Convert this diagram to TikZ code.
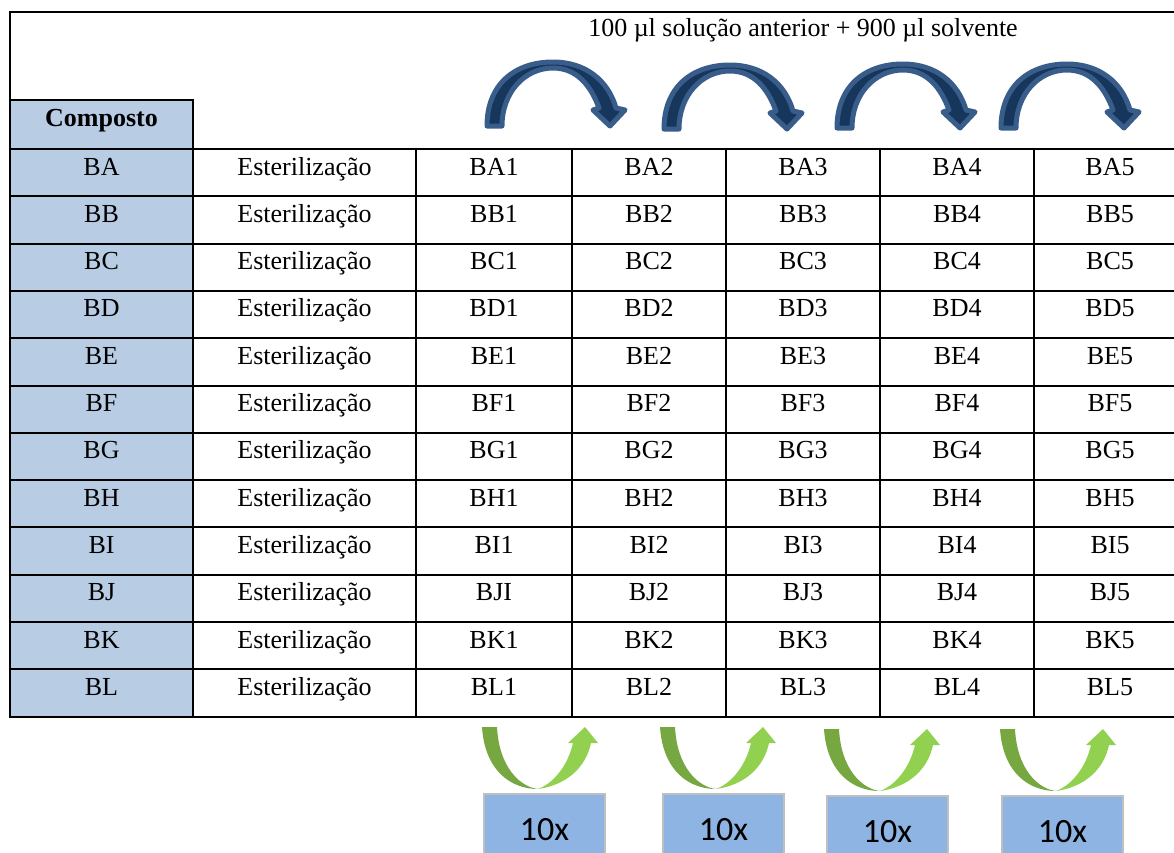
\documentclass[tikz,border=0pt]{standalone}
\usepackage{fontspec}
\setmainfont{Liberation Serif}
\newfontfamily\calib{Carlito}
\definecolor{colblue}{RGB}{184,204,228}
\definecolor{navyfill}{RGB}{22,54,92}
\definecolor{navyedge}{RGB}{56,93,138}
\definecolor{gdark}{RGB}{119,167,64}
\definecolor{glight}{RGB}{146,208,80}
\definecolor{boxfill}{RGB}{142,180,227}
\definecolor{boxedge}{RGB}{191,191,191}
\begin{document}
\begin{tikzpicture}[x=1pt,y=-1pt,
  grid/.style={line width=2pt, line cap=rect},
  celltext/.style={anchor=base, inner sep=0pt, font=\fontsize{26}{30}\selectfont},
  boldtext/.style={celltext, font=\fontsize{26}{30}\selectfont\bfseries},
  tenbox/.style={rectangle, anchor=north west, fill=boxfill, draw=boxedge, line width=2pt,
    minimum width=121pt, minimum height=72pt, inner sep=0pt, font=\calib\fontsize{34}{38}\selectfont},
  bluearrow/.pic={
    \filldraw[fill=navyfill, draw=navyedge, line width=5pt, line join=round]
      (2,126) -- (17,126) .. controls (17,92) and (40,68) .. (68,68)
      .. controls (92,68) and (106,86) .. (114,108) -- (108,110) -- (125,126)
      -- (140,110) -- (131,108) .. controls (123,80) and (100,62) .. (68,62)
      .. controls (30,62) and (2,84) .. (2,126) -- cycle;
  },
  greenarrow/.pic={
    \fill[gdark] (0,0) -- (15,0) .. controls (17,40) and (38,60) .. (56,62)
      .. controls (30,62) and (3,45) .. (0,0) -- cycle;
    \fill[glight] (56,62) .. controls (85,58) and (104,40) .. (109,16) -- (116,16)
      -- (103,0) -- (86,16) -- (91,16) .. controls (86,38) and (72,56) .. (56,62) -- cycle;
  }]
\useasboundingbox (0,0) rectangle (1174,852);
\clip (0,0) rectangle (1174,852);

% fills
\fill[colblue] (10,100) rectangle (193,717);

% grid
\draw[grid] (10,12) -- (1190,12);
\draw[grid] (10,12) -- (10,717);
\draw[grid] (10,100) -- (193,100);
\foreach \k in {0,...,12} {
  \pgfmathsetmacro\yy{149+47.3*\k}
  \draw[grid] (10,\yy) -- (1190,\yy);
}
\draw[grid] (193,100) -- (193,717);
\foreach \xx in {416,572,726,880,1034} {
  \draw[grid] (\xx,149) -- (\xx,717);
}

% header
\node[celltext] (title) at (803,36) {100 µl solução anterior + 900 µl solvente};
\node[boldtext] (composto) at (101.5,126) {Composto};

% rows
\foreach \nm/\first [count=\r from 0] in {BA/BA1,BB/BB1,BC/BC1,BD/BD1,BE/BE1,BF/BF1,BG/BG1,BH/BH1,BI/BI1,BJ/BJI,BK/BK1,BL/BL1} {
  \pgfmathsetmacro\yb{175+47.3*\r}
  \node[celltext] (c\r-0) at (101.5,\yb) {\nm};
  \node[celltext] (c\r-1) at (304.5,\yb) {Esterilização};
  \node[celltext] (c\r-2) at (494,\yb) {\first};
  \node[celltext] (c\r-3) at (649,\yb) {\nm 2};
  \node[celltext] (c\r-4) at (803,\yb) {\nm 3};
  \node[celltext] (c\r-5) at (957,\yb) {\nm 4};
  \node[celltext] (c\r-6) at (1110,\yb) {\nm 5};
}

% blue dilution arrows
\pic at (485,0) {bluearrow};
\pic at (662,3) {bluearrow};
\pic at (835,2) {bluearrow};
\pic at (999,2) {bluearrow};

% green arrows
\pic at (482,727) {greenarrow};
\pic at (660,727) {greenarrow};
\pic at (824,729) {greenarrow};
\pic at (1000,729) {greenarrow};

% boxes
\node[tenbox] (b1) at (483,793) {10x};
\node[tenbox] (b2) at (662,793) {10x};
\node[tenbox] (b3) at (826,795) {10x};
\node[tenbox] (b4) at (1001,795) {10x};
\end{tikzpicture}
\end{document}
